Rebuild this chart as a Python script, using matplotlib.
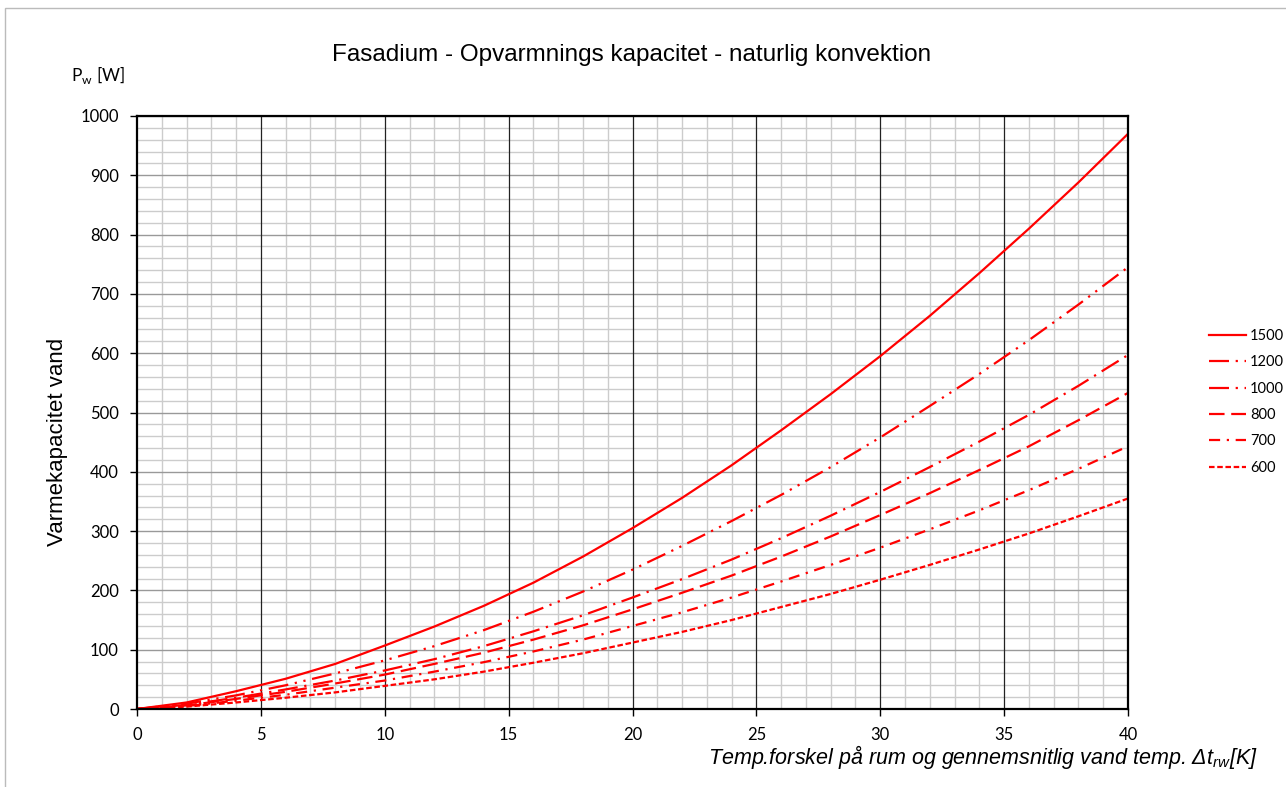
import matplotlib.pyplot as plt
import numpy as np
from matplotlib.patches import Rectangle

# temperature difference [K]
dt = [0, 2, 4, 6, 8, 10, 12, 14, 16, 18, 20, 22, 24, 26, 28, 30, 32, 34, 36, 38, 40]

# heating capacity [W] per radiator length
p1500 = [0, 11, 30, 51, 76, 107, 139, 174, 213, 257, 305, 356, 411, 470, 531, 595, 663, 735, 810, 888, 970]
p1200 = [0, 9, 23, 40, 60, 82, 106, 133, 164, 198, 235, 275, 317, 361, 408, 458, 511, 565, 622, 682, 745]
p1000 = [0, 7, 19, 33, 48, 65, 84, 106, 131, 158, 188, 219, 252, 288, 326, 366, 408, 451, 496, 545, 597]
p800 = [0, 6, 17, 29, 43, 58, 76, 95, 117, 141, 168, 196, 225, 257, 291, 327, 364, 403, 443, 487, 533]
p700 = [0, 5, 14, 24, 36, 48, 63, 79, 97, 117, 140, 163, 188, 215, 243, 272, 303, 335, 369, 405, 443]
p600 = [0, 4, 11, 19, 28, 39, 50, 63, 78, 94, 112, 130, 150, 172, 194, 218, 243, 269, 296, 325, 355]

labels = ['1500', '1200', '1000', '800', '700', '600']
series = [p1500, p1200, p1000, p800, p700, p600]
styles = ['-', (0, (9, 3, 1, 3, 1, 3)), (0, (9, 3, 1, 3)), (0, (7, 3)),
          (0, (5, 3, 1, 3)), (0, (2.5, 1.2))]

fig = plt.figure(figsize=(12.86, 7.87), dpi=100)
ax = fig.add_axes([137 / 1286, 1 - 709 / 787, (1128 - 137) / 1286, (709 - 116) / 787])

for lab, vals, ls in zip(labels, series, styles):
    ax.plot(dt, vals, color='#ff0000', lw=1.6, ls=ls, label=lab, zorder=3)

ax.set_xlim(0, 40)
ax.set_ylim(0, 1000)
ax.set_xticks(np.arange(0, 41, 5))
ax.set_yticks(np.arange(0, 1001, 100))
ax.set_xticks(np.arange(0, 41, 1), minor=True)
ax.set_yticks(np.arange(0, 1001, 20), minor=True)
ax.grid(which='minor', color='#cccccc', lw=1.0)
ax.grid(which='major', axis='y', color='#999999', lw=1.0)
ax.set_axisbelow(True)
# dark vertical lines every 5 K on top of the light grid
for xv in ax.get_xticks()[1:-1]:
    ax.axvline(xv, color='#222222', lw=0.9, zorder=1)
ax.tick_params(which='minor', length=0)
ax.tick_params(which='major', length=5, width=1, pad=8, labelsize=12)
for t in ax.get_xticklabels() + ax.get_yticklabels():
    t.set_family('Lato')
for s in ax.spines.values():
    s.set_linewidth(1.6)
    s.set_zorder(4)

fig.text(632 / 1286, 1 - 55 / 787, 'Fasadium - Opvarmnings kapacitet - naturlig konvektion',
         ha='center', va='center', fontsize=17.5, family='Liberation Sans')
fig.text(57 / 1286, 1 - 442 / 787, 'Varmekapacitet vand', rotation=90,
         ha='center', va='center', fontsize=16, family='Liberation Sans')
fig.text(71 / 1286, 1 - 75 / 787, r'P$_{\mathregular{w}}$ [W]', ha='left', va='center',
         fontsize=12.5, family='Lato')
fig.text(1258 / 1286, 1 - 757 / 787,
         r'Temp.forskel på rum og gennemsnitlig vand temp. $\mathregular{\Delta t_{rw}}$[K]',
         ha='right', va='center', fontsize=15.5, family='Liberation Sans', style='italic')

ax.legend(loc='center left', bbox_to_anchor=(1.068, 0.518), frameon=False,
          handlelength=2.55, handletextpad=0.3, labelspacing=0.85, borderpad=0.4,
          prop={'family': 'Lato', 'size': 10.5})

fig.add_artist(Rectangle((5 / 1286, -0.01), 1.1, 1 - 8 / 787 + 0.01, transform=fig.transFigure,
                         fill=False, ec='#bbbbbb', lw=1))

fig.savefig('out.png', dpi=100)
